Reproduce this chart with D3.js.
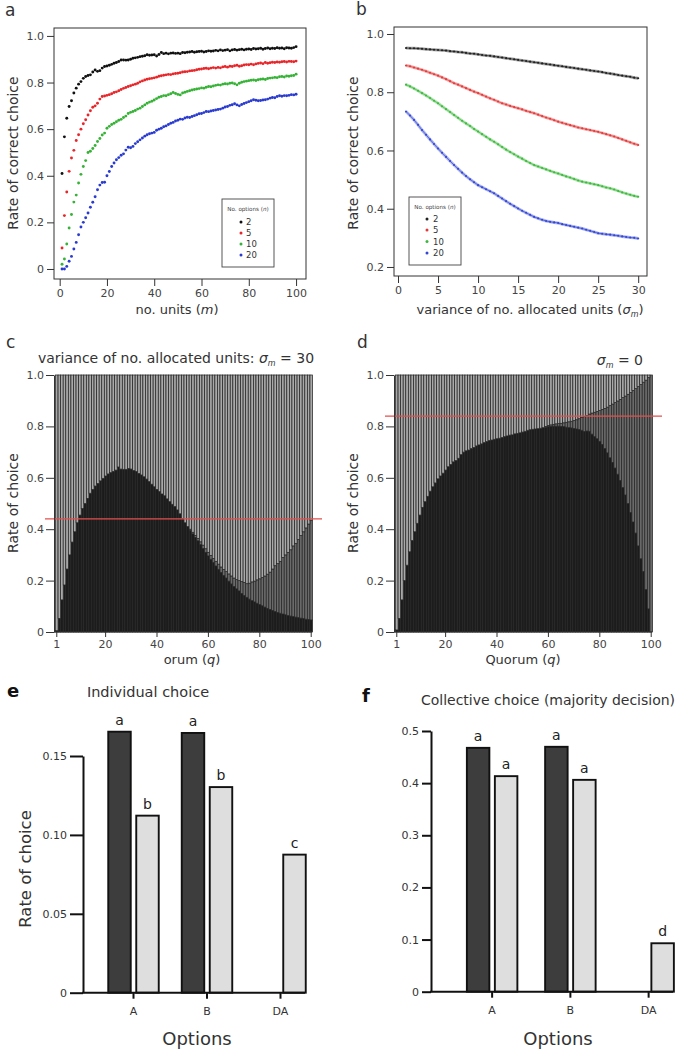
<!DOCTYPE html>
<html><head><meta charset="utf-8">
<script src="https://cdn.jsdelivr.net/npm/d3@7/dist/d3.min.js"></script>
<style>
body{margin:0;background:#fff;}
svg{display:block;}
svg text{font-family:"DejaVu Sans",Verdana,sans-serif;}
</style></head>
<body>
<svg id="fig" width="685" height="1051" viewBox="0 0 685 1051"></svg>
<script>
// ================= DATA =================
// Panel a: rate of correct choice vs no. units (m), per no. options (n)
const units = d3.range(1, 101);
const optionLabels = ['2', '5', '10', '20'];
const rateN2 = [.41,.567,.647,.697,.722,.755,.776,.793,.804,.818,
 .826,.83,.833,.845,.854,.848,.851,.862,.869,.871,
 .874,.878,.883,.886,.89,.897,.897,.896,.897,.9,
 .904,.906,.908,.911,.913,.915,.919,.917,.918,.919,
 .914,.92,.929,.924,.926,.923,.926,.927,.925,.926,
 .924,.929,.928,.93,.931,.933,.93,.932,.933,.934,
 .931,.933,.936,.934,.935,.938,.936,.94,.937,.939,
 .941,.936,.94,.942,.939,.941,.943,.94,.943,.944,
 .942,.946,.944,.945,.947,.943,.946,.948,.945,.947,
 .946,.949,.947,.948,.945,.949,.948,.947,.95,.954];
const rateN5 = [.09,.229,.33,.419,.476,.509,.551,.576,.6,.623,
 .64,.661,.679,.694,.7,.711,.729,.74,.742,.745,
 .748,.752,.757,.76,.765,.77,.775,.779,.783,.786,
 .79,.793,.797,.803,.807,.811,.814,.816,.818,.82,
 .823,.827,.829,.831,.833,.835,.834,.837,.839,.84,
 .842,.845,.846,.847,.85,.851,.852,.855,.857,.858,
 .86,.861,.859,.862,.864,.862,.865,.863,.867,.869,
 .866,.87,.869,.872,.874,.87,.872,.875,.877,.876,
 .879,.876,.88,.882,.884,.881,.886,.883,.885,.887,
 .886,.888,.887,.889,.89,.888,.891,.89,.889,.892];
const rateN10 = [.02,.043,.107,.176,.234,.287,.317,.369,.406,.44,
 .465,.5,.505,.517,.53,.547,.56,.575,.583,.604,
 .612,.62,.625,.632,.638,.642,.65,.656,.667,.672,
 .676,.68,.686,.69,.697,.704,.711,.716,.72,.725,
 .731,.737,.74,.744,.743,.748,.752,.757,.753,.749,
 .747,.755,.758,.762,.765,.768,.77,.772,.774,.777,
 .776,.78,.783,.782,.785,.788,.79,.789,.793,.795,
 .794,.797,.798,.795,.79,.797,.801,.804,.806,.808,
 .81,.811,.809,.812,.814,.815,.813,.817,.819,.82,
 .822,.821,.825,.826,.824,.828,.827,.829,.83,.836];
const rateN20 = [0,0,.011,.033,.054,.086,.114,.147,.18,.2,
 .22,.24,.265,.286,.31,.34,.36,.371,.372,.4,
 .418,.44,.455,.469,.478,.488,.494,.51,.522,.52,
 .526,.538,.546,.554,.562,.57,.576,.58,.583,.586,
 .595,.6,.604,.61,.614,.62,.625,.629,.635,.638,
 .643,.642,.648,.651,.65,.654,.658,.662,.666,.667,
 .671,.676,.675,.678,.68,.682,.684,.686,.69,.695,
 .697,.702,.705,.709,.704,.7,.706,.71,.714,.718,
 .722,.726,.724,.722,.723,.725,.726,.729,.733,.736,
 .735,.74,.743,.741,.744,.743,.745,.748,.747,.75];

// Panel b: rate of correct choice vs variance of no. allocated units (sigma_m)
const sigmaM = [1,1.5,2,2.5,3,3.5,4,4.5,5,5.5,6,6.5,7,7.5,8,8.5,9,9.5,10,10.5,11,11.5,12,12.5,13,13.5,14,14.5,15,15.5,
 16,16.5,17,17.5,18,18.5,19,19.5,20,20.5,21,21.5,22,22.5,23,23.5,24,24.5,25,25.5,26,26.5,27,27.5,28,28.5,29,29.5,30];
const varN2 = [.952,.951,.951,.95,.949,.948,.947,.946,.945,.944,.943,.941,.94,.938,.937,.935,.933,.932,.93,.928,
 .926,.925,.923,.921,.919,.917,.915,.913,.911,.909,.907,.905,.903,.901,.899,.897,.895,.893,.891,.889,
 .887,.885,.883,.881,.879,.877,.875,.873,.871,.869,.866,.864,.862,.859,.857,.855,.853,.85,.848];
const varN5 = [.892,.889,.885,.881,.877,.872,.867,.862,.857,.851,.845,.838,.831,.826,.82,.814,.808,.802,.797,.791,
 .785,.779,.774,.768,.762,.758,.753,.749,.745,.741,.736,.732,.728,.723,.718,.713,.709,.704,.699,.695,
 .691,.687,.683,.679,.676,.673,.67,.667,.664,.66,.656,.652,.648,.643,.638,.633,.628,.623,.619];
const varN10 = [.826,.82,.813,.805,.797,.789,.78,.771,.762,.752,.742,.732,.722,.712,.702,.693,.684,.674,.665,.656,
 .647,.638,.63,.621,.612,.603,.595,.587,.579,.572,.564,.557,.55,.545,.54,.535,.53,.525,.521,.516,
 .511,.507,.502,.497,.493,.49,.487,.484,.481,.477,.473,.47,.466,.461,.456,.452,.448,.444,.441];
const varN20 = [.734,.72,.705,.688,.67,.654,.638,.622,.607,.592,.578,.564,.55,.537,.524,.512,.501,.491,.481,.474,
 .467,.46,.453,.444,.435,.426,.417,.409,.401,.393,.386,.379,.372,.367,.362,.358,.355,.353,.351,.347,
 .344,.341,.338,.335,.332,.328,.324,.32,.316,.314,.312,.311,.309,.307,.305,.303,.301,.3,.298];

// Panels c, d: rate of choice vs quorum (q): best option, other option; remainder = undecided
const quorum = d3.range(1, 101);
const cBest = [.005,.053,.125,.183,.245,.30,.35,.39,.425,.455,.48,.50,.52,.54,.555,.568,.578,.588,.598,.607,
 .615,.62,.625,.63,.642,.634,.633,.633,.636,.634,.628,.624,.617,.611,.604,.595,.585,.575,.565,.555,
 .546,.537,.53,.518,.507,.497,.488,.475,.46,.442,
 .425,.41,.395,.382,.368,.355,.34,.325,.31,.296,.283,.27,.257,.244,.232,.22,.21,.198,.187,.177,
 .168,.16,.15,.142,.135,.128,.122,.117,.112,.107,.102,.097,.092,.088,.084,.08,.076,.073,.07,.067,
 .064,.062,.06,.058,.056,.054,.052,.05,.049,.047];
const cOther = [0,0,0,0,0,0,0,0,0,0,0,0,0,0,0,0,0,0,0,0,0,0,0,0,0,0,0,0,0,0,0,0,0,0,0,0,0,0,0,0,
 0,0,0,0,0,0,0,0,0,0,0,0,
 .005,.006,.008,.009,.011,.013,.014,.014,.015,.016,
 .018,.02,.021,.023,.025,.028,.031,.033,.036,.04,
 .046,.051,.053,.062,.073,.081,.091,.1,.11,.121,
 .133,.145,.161,.178,.19,.202,.22,.233,.246,.258,
 .275,.287,.304,.321,.338,.355,.371,.388];
const dBest = [.008,.053,.125,.2,.26,.312,.356,.39,.423,.455,
 .485,.507,.528,.548,.565,.58,.596,.607,.618,.63,
 .643,.652,.662,.667,.676,.69,.7,.705,.708,.714,
 .718,.724,.728,.732,.737,.741,.745,.747,.75,.752,
 .754,.757,.76,.763,.766,.767,.771,.773,.775,.778,
 .781,.785,.787,.789,.79,.791,.793,.795,.797,.799,
 .8,.801,.801,.801,.8,.799,.797,.795,.794,.792,
 .79,.788,.785,.78,.782,.781,.77,.76,.752,.742,
 .73,.714,.697,.678,.66,.638,.614,.59,.562,.533,
 .5,.465,.428,.385,.335,.285,.235,.165,.09,0];
const dOther = [0,0,0,0,0,0,0,0,0,0,0,0,0,0,0,0,0,0,0,0,0,0,0,0,0,0,0,0,0,0,0,0,0,0,0,0,0,0,0,0,
 0,0,0,0,0,0,0,0,0,0,0,0,0,0,0,0,0,0,
 .003,.005,.006,.007,.009,.01,.012,.015,.019,.023,
 .026,.031,.036,.042,.05,.058,.06,.067,.082,.095,
 .106,.12,.136,.156,.178,.203,.227,.255,.285,.315,
 .35,.385,.425,.467,.512,.562,.62,.678,.737,.815,
 .9,1.0];
const cRefLine = 0.44, dRefLine = 0.84;

// Panels e, f: rate of choice per option
const optionGroups = ['A', 'B', 'DA'];
const eDark  = [0.1654, 0.1646, 0];
const eLight = [0.1122, 0.1303, 0.0875];
const eDarkLetters  = ['a', 'a', ''];
const eLightLetters = ['b', 'b', 'c'];
const fDark  = [0.4677, 0.4697, 0];
const fLight = [0.4134, 0.4063, 0.0929];
const fDarkLetters  = ['a', 'a', ''];
const fLightLetters = ['a', 'a', 'd'];

// Tick labels
const aTicksX = [0, 20, 40, 60, 80, 100];
const aTicksY = [0, 0.2, 0.4, 0.6, 0.8, 1.0];
const bTicksX = [0, 5, 10, 15, 20, 25, 30];
const bTicksY = [0.2, 0.4, 0.6, 0.8, 1.0];
const cdTicksX = [1, 20, 40, 60, 80, 100];
const cdTicksY = [0, 0.2, 0.4, 0.6, 0.8, 1.0];
const eTicksY = [0, 0.05, 0.10, 0.15];
const fTicksY = [0, 0.1, 0.2, 0.3, 0.4, 0.5];

// ================= DRAWING =================
const FONT = '"DejaVu Sans", Verdana, sans-serif';
const svg = d3.select('#fig');
svg.append('rect').attr('width', 685).attr('height', 1051).attr('fill', '#fff');

const fmt1 = d => d === 0 ? '0' : d3.format('.1f')(d);
const fmt2 = d => d === 0 ? '0' : d3.format('.2f')(d);

function rich(x, y, parts, size, anchor = 'middle', rotate = false, extra = {}) {
  const t = svg.append('text').attr('x', x).attr('y', y).attr('font-size', size)
    .attr('text-anchor', anchor).attr('fill', extra.fill || '#333').attr('font-family', extra.family || FONT);
  if (extra.weight) t.attr('font-weight', extra.weight);
  if (rotate) t.attr('transform', `rotate(-90,${x},${y})`);
  parts.forEach(p => {
    const s = t.append('tspan').text(p.t);
    if (p.i) s.attr('font-style', 'italic');
    if (p.size) s.attr('font-size', p.size);
    if (p.dy) s.attr('dy', p.dy);
  });
  return t;
}

function styleAxis(g, size, color = '#444', lineColor = '#333', lw = 1) {
  g.attr('font-family', FONT).attr('font-size', size);
  g.selectAll('.tick text').attr('fill', color);
  g.selectAll('.tick line').attr('stroke', lineColor).attr('stroke-width', lw);
  g.select('.domain').attr('stroke', lineColor).attr('stroke-width', lw);
}

// ---------- Panel a ----------
(function () {
  const x = d3.scaleLinear().domain([-2.4, 104.2]).range([54, 306]);
  const y = d3.scaleLinear().domain([-0.043, 1.034]).range([279, 28]);
  const series = [rateN2, rateN5, rateN10, rateN20];
  const colors = ['#111111', '#e8262a', '#36b336', '#2a3bd0'];
  const g = svg.append('g');
  series.forEach((s, k) => {
    g.append('g').selectAll('circle').data(units).join('circle')
      .attr('cx', d => x(d)).attr('cy', (d, i) => y(s[i])).attr('r', 1.45).attr('fill', colors[k]);
  });
  svg.append('rect').attr('x', 54).attr('y', 28).attr('width', 252).attr('height', 251)
    .attr('fill', 'none').attr('stroke', '#333').attr('stroke-width', 1);
  const ay = svg.append('g').attr('transform', 'translate(54,0)')
    .call(d3.axisLeft(y).tickValues(aTicksY).tickFormat(fmt1).tickSize(7).tickPadding(3));
  ay.select('.domain').remove(); styleAxis(ay, 11);
  const ax = svg.append('g').attr('transform', 'translate(0,279)')
    .call(d3.axisBottom(x).tickValues(aTicksX).tickSize(7).tickPadding(3));
  ax.select('.domain').remove(); styleAxis(ax, 11);
  rich(177, 314, [{t: 'no. units ('}, {t: 'm', i: 1}, {t: ')'}], 13);
  rich(18, 153, [{t: 'Rate of correct choice'}], 14, 'middle', true);
  rich(5, 16, [{t: 'a'}], 17, 'start');
  // legend
  const L = svg.append('g');
  L.append('rect').attr('x', 222).attr('y', 199).attr('width', 52).attr('height', 68)
    .attr('fill', '#fff').attr('stroke', '#444').attr('stroke-width', 0.9);
  const lt = L.append('text').attr('x', 248).attr('y', 211).attr('font-size', 5.6).attr('text-anchor', 'middle').attr('fill', '#444');
  lt.append('tspan').text('No. options ('); lt.append('tspan').attr('font-style', 'italic').text('n'); lt.append('tspan').text(')');
  optionLabels.forEach((lab, i) => {
    const yy = [222, 233, 244, 255][i];
    L.append('circle').attr('cx', 241).attr('cy', yy).attr('r', 1.5).attr('fill', colors[i]);
    L.append('text').attr('x', 246).attr('y', yy + 3).attr('font-size', 8.5).attr('fill', '#333').text(lab);
  });
})();

// ---------- Panel b ----------
(function () {
  const x = d3.scaleLinear().domain([-0.5, 31.1]).range([394, 647]);
  const y = d3.scaleLinear().domain([0.169, 1.024]).range([276, 27]);
  const series = [varN2, varN5, varN10, varN20];
  const colors = ['#222222', '#e23a3a', '#3cb83c', '#3347d4'];
  const line = d3.line().x((d, i) => x(sigmaM[i])).y(d => y(d));
  series.forEach((s, k) => {
    svg.append('path').attr('d', line(s)).attr('fill', 'none').attr('stroke', colors[k])
      .attr('stroke-width', 3).attr('stroke-opacity', 0.4);
    svg.append('g').selectAll('circle').data(s).join('circle')
      .attr('cx', (d, i) => x(sigmaM[i])).attr('cy', d => y(d)).attr('r', 1.05).attr('fill', colors[k]);
    svg.append('path').attr('d', line(s)).attr('fill', 'none').attr('stroke', colors[k])
      .attr('stroke-width', 0.8).attr('stroke-opacity', 0.9);
  });
  svg.append('rect').attr('x', 394).attr('y', 27).attr('width', 253).attr('height', 249)
    .attr('fill', 'none').attr('stroke', '#333').attr('stroke-width', 1);
  const ay = svg.append('g').attr('transform', 'translate(394,0)')
    .call(d3.axisLeft(y).tickValues(bTicksY).tickFormat(fmt1).tickSize(7).tickPadding(3));
  ay.select('.domain').remove(); styleAxis(ay, 11);
  const ax = svg.append('g').attr('transform', 'translate(0,276)')
    .call(d3.axisBottom(x).tickValues(bTicksX).tickSize(7).tickPadding(3));
  ax.select('.domain').remove(); styleAxis(ax, 11);
  rich(530, 314, [{t: 'variance of no. allocated units ('}, {t: 'σ', i: 1}, {t: 'm', i: 1, size: 8, dy: 3}, {t: ')', dy: -3}], 13);
  rich(358, 153, [{t: 'Rate of correct choice'}], 14, 'middle', true);
  rich(356, 15, [{t: 'b'}], 17, 'start');
  const L = svg.append('g');
  L.append('rect').attr('x', 409).attr('y', 197).attr('width', 52).attr('height', 68)
    .attr('fill', '#fff').attr('stroke', '#444').attr('stroke-width', 0.9);
  const lt = L.append('text').attr('x', 435).attr('y', 209).attr('font-size', 5.6).attr('text-anchor', 'middle').attr('fill', '#444');
  lt.append('tspan').text('No. options ('); lt.append('tspan').attr('font-style', 'italic').text('n'); lt.append('tspan').text(')');
  optionLabels.forEach((lab, i) => {
    const yy = [219, 230, 241.5, 253][i];
    L.append('circle').attr('cx', 427).attr('cy', yy).attr('r', 1.5).attr('fill', colors[i]);
    L.append('text').attr('x', 433).attr('y', yy + 3).attr('font-size', 8.5).attr('fill', '#333').text(lab);
  });
})();

// ---------- Panels c, d ----------
function quorumPanel(left, right, best, other, refLine, labelParts, labelX, titleFn) {
  const x = d3.scaleBand().domain(quorum).range([left + 1.5, right + 0.5]).padding(0);
  const y = d3.scaleLinear().domain([0, 1]).range([632, 375]);
  const rows = quorum.map((q, i) => ({q, best: best[i], other: other[i], none: Math.max(0, 1 - best[i] - other[i])}));
  const layers = d3.stack().keys(['best', 'other', 'none'])(rows);
  const fills = {best: '#1c1c1c', other: '#6a6a6a', none: '#a9a9a9'};
  svg.append('g').selectAll('g').data(layers).join('g').attr('fill', d => fills[d.key])
    .selectAll('rect').data(d => d.filter(s => s[1] - s[0] > 0.0005)).join('rect')
    .attr('x', s => x(s.data.q)).attr('width', x.bandwidth())
    .attr('y', s => y(s[1])).attr('height', s => y(s[0]) - y(s[1]))
    .attr('stroke', '#262626').attr('stroke-width', 0.75);
  svg.append('line').attr('x1', left - 9).attr('x2', right + 10).attr('y1', y(refLine)).attr('y2', y(refLine))
    .attr('stroke', '#e2504e').attr('stroke-width', 1.2);
  const ay = svg.append('g').attr('transform', `translate(${left},0)`)
    .call(d3.axisLeft(y).tickValues(cdTicksY).tickFormat(fmt1).tickSize(8).tickSizeOuter(0).tickPadding(2));
  styleAxis(ay, 11);
  const ax = svg.append('g').attr('transform', 'translate(0,632)')
    .call(d3.axisBottom(x).tickValues(cdTicksX).tickSize(5).tickSizeOuter(0).tickPadding(3));
  ax.select('.domain').attr('d', `M${left},0H${right}`);
  styleAxis(ax, 11);
  rich(labelX, 664, labelParts, 13);
  rich(left - 36, 503, [{t: 'Rate of choice'}], 14, 'middle', true);
  titleFn();
}
quorumPanel(54, 312, cBest, cOther, cRefLine, [{t: 'orum ('}, {t: 'q', i: 1}, {t: ')'}], 192, () => {
  rich(6, 348, [{t: 'c'}], 17, 'start');
  rich(176, 363, [{t: 'variance of no. allocated units: '}, {t: 'σ', i: 1}, {t: 'm', i: 1, size: 8, dy: 3}, {t: ' = 30', dy: -3}], 14);
});
quorumPanel(394, 652, dBest, dOther, dRefLine, [{t: 'Quorum ('}, {t: 'q', i: 1}, {t: ')'}], 523, () => {
  rich(357, 348, [{t: 'd'}], 17, 'start');
  rich(643, 365, [{t: 'σ', i: 1}, {t: 'm', i: 1, size: 8, dy: 3}, {t: ' = 0', dy: -3}], 14, 'end');
});

// ---------- Panels e, f ----------
function barPanel(opt) {
  const x = d3.scaleBand().domain(optionGroups).range(opt.xr).padding(0);
  const y = d3.scaleLinear().domain(opt.yd).range([opt.y0, opt.yTop]);
  const bw = opt.bw, gap = opt.gap;
  const bars = [];
  optionGroups.forEach((grp, i) => {
    const c = x(grp) + x.bandwidth() / 2;
    bars.push({x: c - gap / 2 - bw, v: opt.dark[i], fill: '#3d3d3d', lab: opt.darkL[i]});
    bars.push({x: c + gap / 2, v: opt.light[i], fill: '#dedede', lab: opt.lightL[i]});
  });
  const shown = bars.filter(b => b.v > 0);
  svg.append('g').selectAll('rect').data(shown).join('rect')
    .attr('x', b => b.x).attr('width', bw).attr('y', b => y(b.v)).attr('height', b => y(0) - y(b.v))
    .attr('fill', b => b.fill).attr('stroke', '#111').attr('stroke-width', 1.9);
  svg.append('g').selectAll('text').data(shown).join('text')
    .attr('x', b => b.x + bw / 2).attr('y', b => y(b.v) - 7).attr('text-anchor', 'middle')
    .attr('font-size', 14).attr('fill', '#222').attr('font-family', FONT).text(b => b.lab);
  const ay = svg.append('g').attr('transform', `translate(${opt.ax},0)`)
    .call(d3.axisLeft(y).tickValues(opt.ticks).tickFormat(opt.fmt).tickSize(opt.tickLen).tickSizeOuter(0).tickPadding(3));
  styleAxis(ay, 11, '#333', '#111', 2);
  svg.append('line').attr('x1', opt.ax - 1).attr('x2', opt.xEnd).attr('y1', y(0)).attr('y2', y(0))
    .attr('stroke', '#111').attr('stroke-width', 2);
  const axx = svg.append('g').attr('transform', `translate(0,${y(0)})`)
    .call(d3.axisBottom(x).tickSize(6).tickPadding(9));
  axx.select('.domain').remove();
  styleAxis(axx, 11, '#333', '#111', 2);
  rich(opt.optX, 1045, [{t: 'Options'}], 18);
}
barPanel({xr: [96.75, 317.25], yd: [0, 0.15], y0: 992.7, yTop: 756, bw: 22.5, gap: 5.5,
  dark: eDark, light: eLight, darkL: eDarkLetters, lightL: eLightLetters,
  ax: 83, xEnd: 305, ticks: eTicksY, fmt: fmt2, tickLen: 13, optX: 197});
rich(31, 869, [{t: 'Rate of choice'}], 16.5, 'middle', true);
rich(7, 697, [{t: 'e'}], 18, 'start', false, {weight: 'bold', family: '"Liberation Sans", Arial, sans-serif', fill: '#111'});
rich(148, 697, [{t: 'Individual choice'}], 14.5);

barPanel({xr: [453, 687.75], yd: [0, 0.5], y0: 991.7, yTop: 731, bw: 22.5, gap: 5.5,
  dark: fDark, light: fLight, darkL: fDarkLetters, lightL: fLightLetters,
  ax: 431, xEnd: 673, ticks: fTicksY, fmt: fmt1, tickLen: 9, optX: 558});
rich(362, 702, [{t: 'f'}], 18, 'start', false, {weight: 'bold', family: '"Liberation Sans", Arial, sans-serif', fill: '#111'});
rich(548, 705, [{t: 'Collective choice (majority decision)'}], 14);
</script>
</body></html>
